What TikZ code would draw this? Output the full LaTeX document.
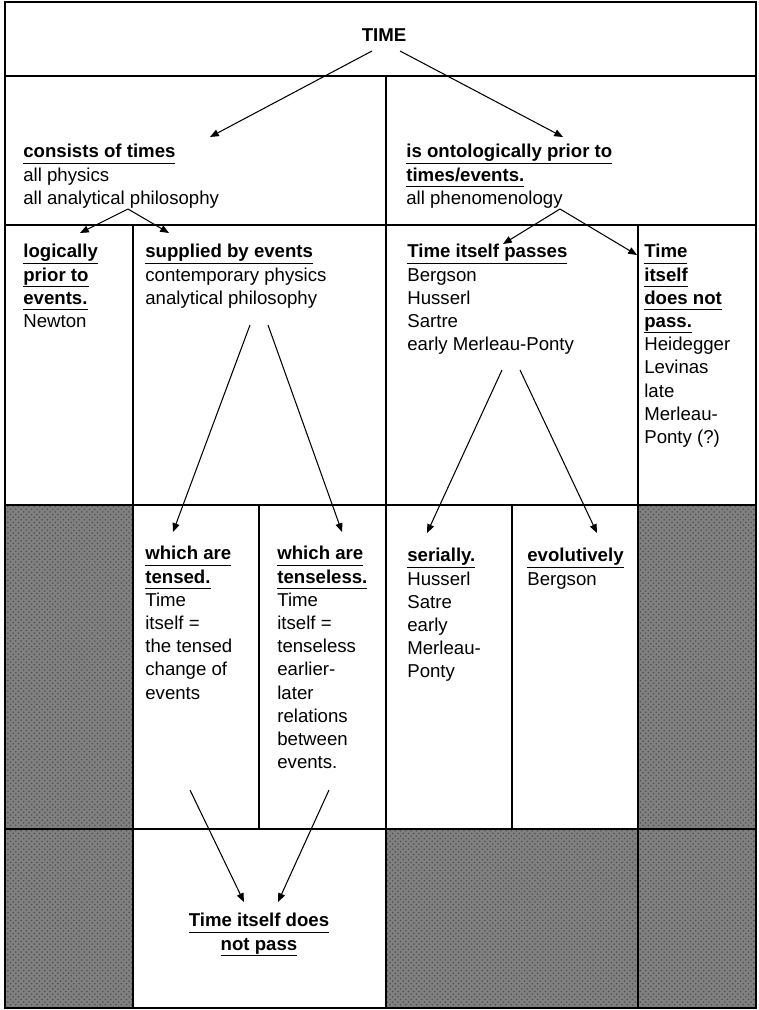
\documentclass[tikz,border=0pt]{standalone}
\usepackage{fontspec}
\setmainfont{Liberation Sans}
\usetikzlibrary{arrows.meta, patterns}
\definecolor{shade}{HTML}{808080}
\definecolor{speck}{HTML}{505050}
\newcommand{\cellfont}{\fontsize{10.6}{13.2}\selectfont}
\newcommand{\hd}[1]{\vtop{\hbox{\textbf{#1}\rule[-2.3pt]{0pt}{2.3pt}}\kern0.4pt\hrule height 0.7pt}}

\begin{document}
\begin{tikzpicture}[x=0.02cm, y=-0.02cm, font=\cellfont,
  grid/.style={line width=1.1pt},
  shaded/.style={fill=shade, postaction={pattern=crosshatch dots, pattern color=speck}},
  txt/.style={anchor=north west, inner sep=0pt, align=left},
  arr/.style={-{Triangle[length=5pt,width=4pt]}, line width=0.6pt}]
  \useasboundingbox (0,0) rectangle (758,1010);

  \path[shaded] (5,505) rectangle (133,829);
  \path[shaded] (638,505) rectangle (756,829);
  \path[shaded] (5,829) rectangle (133,1008);
  \path[shaded] (386,829) rectangle (756,1008);

  \draw[grid] (5,2) rectangle (756,1008);
  \draw[grid] (5,76) -- (756,76);
  \draw[grid] (5,225) -- (756,225);
  \draw[grid] (5,505) -- (756,505);
  \draw[grid] (5,829) -- (756,829);
  \draw[grid] (386,76) -- (386,1008);
  \draw[grid] (133,225) -- (133,1008);
  \draw[grid] (638,225) -- (638,1008);
  \draw[grid] (259,505) -- (259,829);
  \draw[grid] (512,505) -- (512,829);

  \node[inner sep=0pt] (time) at (384,35) {\textbf{TIME}};
  \node[txt] (cons) at (23,144)
    {\hd{consists of times}\\ all physics\\ all analytical philosophy};
  \node[txt] (onto) at (406,144)
    {\hd{is ontologically prior to}\\ \hd{times/events.}\\ all phenomenology};
  \node[txt] (logi) at (23,244)
    {\hd{logically}\\ \hd{prior to}\\ \hd{events.}\\ Newton};
  \node[txt] (supp) at (145,244)
    {\hd{supplied by events}\\ contemporary physics\\ analytical philosophy};
  \node[txt] (pass) at (407,244)
    {\hd{Time itself passes}\\ Bergson\\ Husserl\\ Sartre\\ early Merleau-Ponty};
  \node[txt] (npas) at (644,244)
    {\hd{Time}\\ \hd{itself}\\ \hd{does not}\\ \hd{pass.}\\ Heidegger\\ Levinas\\ late\\ Merleau-\\ Ponty (?)};
  \node[txt] (tens) at (145,546)
    {\hd{which are}\\ \hd{tensed.}\\ Time\\ itself =\\ the tensed\\ change of\\ events};
  \node[txt] (tless) at (277,546)
    {\hd{which are}\\ \hd{tenseless.}\\ Time\\ itself =\\ tenseless\\ earlier-\\ later\\ relations\\ between\\ events.};
  \node[txt] (seri) at (407,548)
    {\hd{serially.}\\ Husserl\\ Satre\\ early\\ Merleau-\\ Ponty};
  \node[txt] (evol) at (527,548)
    {\hd{evolutively}\\ Bergson};
  \node[anchor=north, inner sep=0pt, align=center] (fin) at (259,913)
    {\hd{Time itself does}\\ \hd{not pass}};

  \draw[arr] ([shift={(-12,16)}]time.center) -- ([shift={(187,-7)}]cons.north west);
  \draw[arr] ([shift={(16,16)}]time.center) -- ([shift={(157,-7)}]onto.north west);
  \draw[arr] ([shift={(105,65)}]cons.north west) -- ([shift={(57,-11)}]logi.north west);
  \draw[arr] ([shift={(105,65)}]cons.north west) -- ([shift={(24,-11)}]supp.north west);
  \draw[arr] ([shift={(154,65)}]onto.north west) -- ([shift={(96,0)}]pass.north west);
  \draw[arr] ([shift={(154,65)}]onto.north west) -- ([shift={(-7,11)}]npas.north west);
  \draw[arr] ([shift={(105,81)}]supp.north west) -- ([shift={(28,-14)}]tens.north west);
  \draw[arr] ([shift={(123,81)}]supp.north west) -- ([shift={(65,-14)}]tless.north west);
  \draw[arr] ([shift={(95,126)}]pass.north west) -- ([shift={(20,-15)}]seri.north west);
  \draw[arr] ([shift={(113,126)}]pass.north west) -- ([shift={(70,-15)}]evol.north west);
  \draw[arr] ([shift={(45,244)}]tens.north west) -- ([shift={(-15,-11)}]fin.north);
  \draw[arr] ([shift={(52,244)}]tless.north west) -- ([shift={(19,-11)}]fin.north);
\end{tikzpicture}
\end{document}
